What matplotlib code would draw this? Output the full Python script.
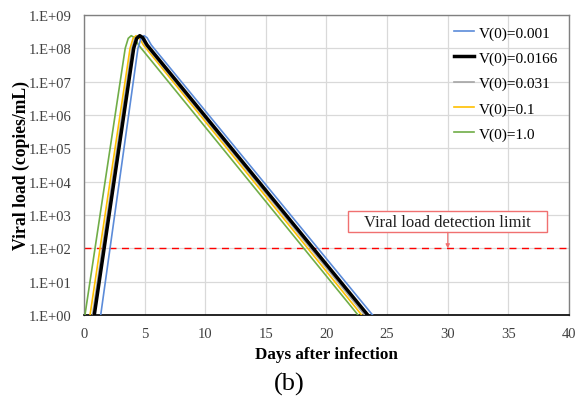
import numpy as np
import matplotlib.pyplot as plt
from matplotlib.patches import Rectangle

# days after infection / log10 viral load
labels = ['V(0)=0.001', 'V(0)=0.0166', 'V(0)=0.031', 'V(0)=0.1', 'V(0)=1.0']
colors = ['#5B8BD9', '#000000', '#A5A5A5', '#FFC000', '#70AD47']
widths = [1.2, 2.5, 1.2, 1.2, 1.2]

t_blue = [1.38, 4.45, 4.7, 4.95, 5.2, 5.55, 23.8]
v_blue = [0.0, 8.0, 8.3, 8.38, 8.32, 8.1, 0.0]
t_black = [0.85, 4.1, 4.35, 4.6, 4.85, 5.2, 23.4]
v_black = [0.0, 8.0, 8.3, 8.38, 8.32, 8.1, 0.0]
t_grey = [0.7, 3.95, 4.2, 4.45, 4.7, 5.05, 23.15]
v_grey = [0.0, 8.0, 8.3, 8.38, 8.32, 8.1, 0.0]
t_yellow = [0.5, 3.8, 4.05, 4.3, 4.55, 4.9, 22.9]
v_yellow = [0.0, 8.0, 8.3, 8.38, 8.32, 8.1, 0.0]
t_green = [0.08, 3.4, 3.65, 3.9, 4.15, 4.5, 22.6]
v_green = [0.0, 8.0, 8.3, 8.38, 8.32, 8.1, 0.0]

series_t = [t_blue, t_black, t_grey, t_yellow, t_green]
series_v = [v_blue, v_black, v_grey, v_yellow, v_green]

detection_limit = 1e2
x_ticks = [0, 5, 10, 15, 20, 25, 30, 35, 40]
y_ticks = [1e0, 1e1, 1e2, 1e3, 1e4, 1e5, 1e6, 1e7, 1e8, 1e9]
y_ticklabels = ['1.E+00', '1.E+01', '1.E+02', '1.E+03', '1.E+04',
                '1.E+05', '1.E+06', '1.E+07', '1.E+08', '1.E+09']

plt.rcParams['font.family'] = ['Liberation Serif', 'DejaVu Serif']

fig = plt.figure(figsize=(5.78, 4.06), dpi=100)
ax = fig.add_axes([0.1453, 0.2217, 0.8391, 0.7389])

# draw in zorder so black sits on top of grey, as in the picture
order = [4, 3, 2, 0, 1]
handles = {}
for i in order:
    ln, = ax.plot(series_t[i], 10 ** np.array(series_v[i]), color=colors[i],
                  lw=widths[i], label=labels[i], zorder=3 + (i == 1))
    handles[i] = ln

ax.axhline(detection_limit, color='#FF0000', lw=1.0, ls=(0, (5, 4)), zorder=2)

# label box for the detection limit
box_x0, box_x1 = 21.8, 38.2
box_y0, box_y1 = 10 ** 2.48, 10 ** 3.11
ax.add_patch(Rectangle((box_x0, box_y0), box_x1 - box_x0, box_y1 - box_y0,
                       fc='white', ec='#F07070', lw=1.0, zorder=5))
ax.text(30, 10 ** 2.80, 'Viral load detection limit', ha='center', va='center',
        fontsize=12, color='#202020', zorder=6)
ax.annotate('', xy=(30, detection_limit), xytext=(30, box_y0),
            arrowprops=dict(arrowstyle='-|>', color='#F07070', lw=0.8,
                            mutation_scale=6, shrinkA=0, shrinkB=0), zorder=6)

ax.set_yscale('log')
ax.set_xlim(0, 40)
ax.set_ylim(1e0, 1e9)
ax.set_xticks(x_ticks)
ax.set_yticks(y_ticks)
ax.set_yticklabels(y_ticklabels)
ax.yaxis.set_minor_locator(plt.NullLocator())
ax.tick_params(length=0, labelsize=10.5, colors='#404040', pad=9)
ax.grid(True, color='#D9D9D9', lw=0.9)
ax.set_axisbelow(True)
for s in ['left', 'top', 'right']:
    ax.spines[s].set_color('#808080')
    ax.spines[s].set_linewidth(1.0)
ax.spines['bottom'].set_color('#000000')
ax.spines['bottom'].set_linewidth(1.2)

ax.set_xlabel('Days after infection', fontsize=12.3, fontweight='bold', labelpad=4)
ax.set_ylabel('Viral load (copies/mL)', fontsize=12.7, fontweight='bold', labelpad=-1)

ax.legend([handles[i] for i in range(5)], labels, loc='upper right',
          bbox_to_anchor=(1.0, 1.0), frameon=False, fontsize=11,
          handlelength=1.3, handletextpad=0.3, labelspacing=0.75,
          borderaxespad=0.3)

fig.text(0.5, 0.052, '(b)', ha='center', va='center', fontsize=19)

fig.savefig('out.png', dpi=100)
